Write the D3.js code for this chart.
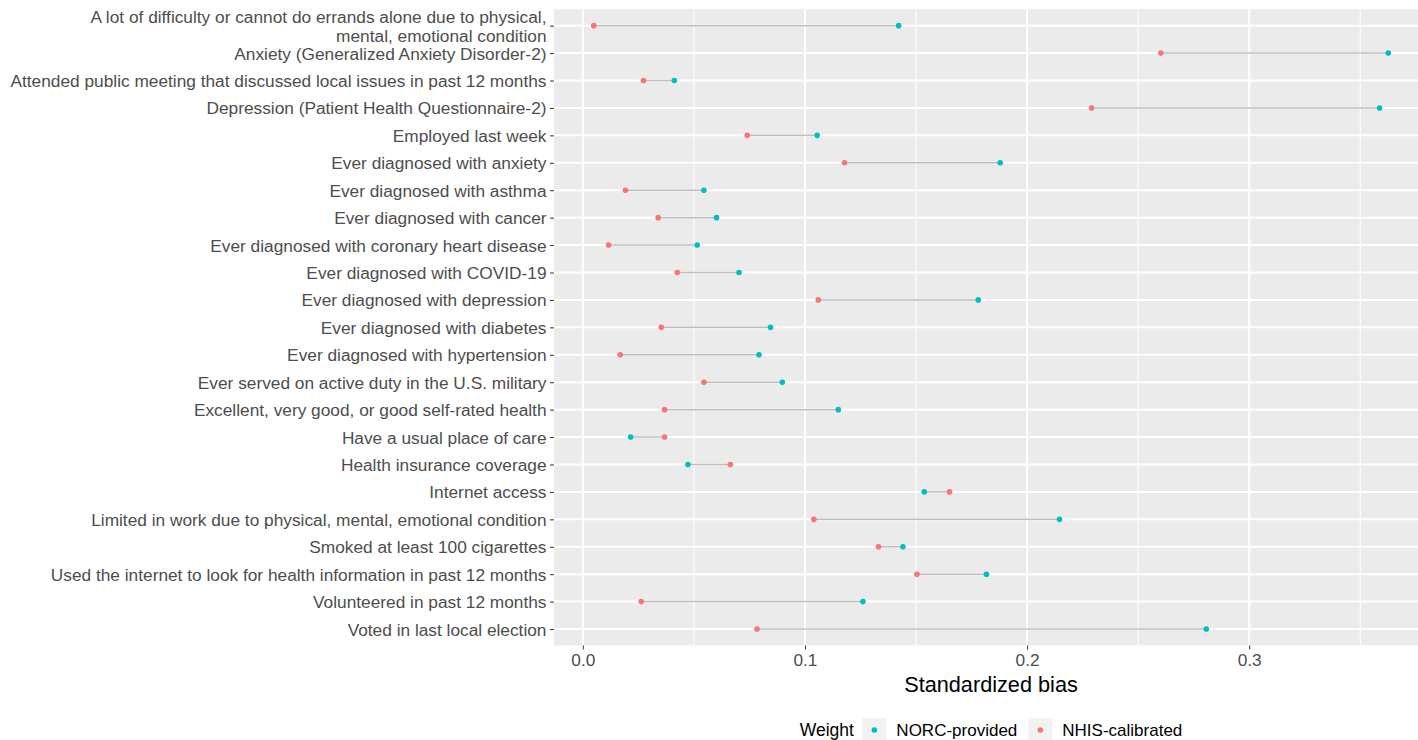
<!DOCTYPE html>
<html>
<head>
<meta charset="utf-8">
<script src="https://cdn.jsdelivr.net/npm/d3@7"></script>
<style>
  html, body { margin: 0; padding: 0; background: #ffffff; }
  svg { display: block; }
  text { font-family: "Liberation Sans", Arial, sans-serif; }
</style>
</head>
<body>
<svg id="chart" width="1418" height="740"></svg>
<script>
const categories = [
  "A lot of difficulty or cannot do errands alone due to physical,\nmental, emotional condition",
  "Anxiety (Generalized Anxiety Disorder-2)",
  "Attended public meeting that discussed local issues in past 12 months",
  "Depression (Patient Health Questionnaire-2)",
  "Employed last week",
  "Ever diagnosed with anxiety",
  "Ever diagnosed with asthma",
  "Ever diagnosed with cancer",
  "Ever diagnosed with coronary heart disease",
  "Ever diagnosed with COVID-19",
  "Ever diagnosed with depression",
  "Ever diagnosed with diabetes",
  "Ever diagnosed with hypertension",
  "Ever served on active duty in the U.S. military",
  "Excellent, very good, or good self-rated health",
  "Have a usual place of care",
  "Health insurance coverage",
  "Internet access",
  "Limited in work due to physical, mental, emotional condition",
  "Smoked at least 100 cigarettes",
  "Used the internet to look for health information in past 12 months",
  "Volunteered in past 12 months",
  "Voted in last local election"
];
const norcProvided = [0.1422, 0.3626, 0.0412, 0.3587, 0.1055, 0.1879, 0.0545, 0.0602, 0.0515, 0.0703, 0.1780, 0.0845, 0.0793, 0.0898, 0.1150, 0.0215, 0.0473, 0.1537, 0.2146, 0.1441, 0.1817, 0.1261, 0.2807];
const nhisCalibrated = [0.0049, 0.2602, 0.0273, 0.2290, 0.0740, 0.1178, 0.0192, 0.0339, 0.0116, 0.0425, 0.1060, 0.0353, 0.0168, 0.0545, 0.0368, 0.0368, 0.0664, 0.1651, 0.1040, 0.1331, 0.1504, 0.0263, 0.0784];
const xTicks = [0.0, 0.1, 0.2, 0.3];
const xMinorTicks = [0.05, 0.15, 0.25, 0.35];
const seriesNames = ["NORC-provided", "NHIS-calibrated"];
const seriesColors = ["#00BFC4", "#F8766D"];
const legendTitle = "Weight";
const xTitle = "Standardized bias";

const svg = d3.select("#chart");
const panel = { left: 554, right: 1428, top: 9.2, bottom: 645.5 };

const allVals = norcProvided.concat(nhisCalibrated);
const [dMin, dMax] = d3.extent(allVals);
const ex = (dMax - dMin) * 0.05;
const x = d3.scaleLinear().domain([dMin - ex, dMax + ex]).range([panel.left, panel.right]);
const y = d3.scalePoint().domain(categories).range([panel.top, panel.bottom]).padding(0.6);

// panel background
svg.append("rect")
  .attr("x", panel.left).attr("y", panel.top)
  .attr("width", panel.right - panel.left).attr("height", panel.bottom - panel.top)
  .attr("fill", "#EBEBEB");

const grid = svg.append("g");
grid.selectAll("line.minor").data(xMinorTicks).join("line")
  .attr("class", "minor")
  .attr("x1", d => x(d)).attr("x2", d => x(d))
  .attr("y1", panel.top).attr("y2", panel.bottom)
  .attr("stroke", "#ffffff").attr("stroke-width", 1.1);
grid.selectAll("line.majorx").data(xTicks).join("line")
  .attr("class", "majorx")
  .attr("x1", d => x(d)).attr("x2", d => x(d))
  .attr("y1", panel.top).attr("y2", panel.bottom)
  .attr("stroke", "#ffffff").attr("stroke-width", 2);
grid.selectAll("line.majory").data(categories).join("line")
  .attr("class", "majory")
  .attr("x1", panel.left).attr("x2", panel.right)
  .attr("y1", d => y(d)).attr("y2", d => y(d))
  .attr("stroke", "#ffffff").attr("stroke-width", 2);

// segments
const rows = categories.map((c, i) => ({ c, a: norcProvided[i], b: nhisCalibrated[i] }));
svg.append("g").selectAll("line").data(rows).join("line")
  .attr("x1", d => x(d.a)).attr("x2", d => x(d.b))
  .attr("y1", d => y(d.c)).attr("y2", d => y(d.c))
  .attr("stroke", "#BEBEBE").attr("stroke-width", 1.5);

// points
const series = [norcProvided, nhisCalibrated];
series.forEach((vals, si) => {
  svg.append("g").selectAll("circle").data(vals).join("circle")
    .attr("cx", d => x(d))
    .attr("cy", (d, i) => y(categories[i]))
    .attr("r", 2.8)
    .attr("fill", seriesColors[si]);
});

// x axis
const xAxis = d3.axisBottom(x).tickValues(xTicks).tickFormat(d3.format(".1f")).tickSize(4).tickPadding(4);
const gx = svg.append("g").attr("transform", `translate(0,${panel.bottom})`).call(xAxis);
gx.select(".domain").remove();
gx.selectAll(".tick line").attr("stroke", "#333333").attr("stroke-width", 1);
gx.selectAll(".tick text").attr("fill", "#4D4D4D").attr("font-size", 17.3)
  .attr("font-family", "Liberation Sans, Arial, sans-serif");

// y axis
const yAxis = d3.axisLeft(y).tickSize(4).tickPadding(3).tickFormat("");
const gy = svg.append("g").attr("transform", `translate(${panel.left},0)`).call(yAxis);
gy.select(".domain").remove();
gy.selectAll(".tick line").attr("stroke", "#333333").attr("stroke-width", 1);
const lh = 19;
gy.selectAll(".tick").each(function(d) {
  const lines = d.split("\n");
  const t = d3.select(this).select("text")
    .attr("fill", "#4D4D4D").attr("font-size", 17.3)
    .attr("font-family", "Liberation Sans, Arial, sans-serif")
    .attr("text-anchor", "end").attr("dy", null);
  t.text(null);
  const n = lines.length;
  lines.forEach((ln, k) => {
    t.append("tspan").attr("x", -7.5)
      .attr("y", (k - (n - 1) / 2) * lh + 6)
      .text(ln);
  });
});

// x title
svg.append("text")
  .attr("x", (panel.left + panel.right) / 2).attr("y", 692)
  .attr("text-anchor", "middle").attr("font-size", 21.7).attr("fill", "#000000")
  .text(xTitle);

// legend
const lg = svg.append("g");
const ly = 730;
const tTitle = lg.append("text").attr("font-size", 17.5).attr("fill", "#000").attr("y", ly + 6).text(legendTitle);
const labels = seriesNames.map(s => lg.append("text").attr("font-size", 17).attr("fill", "#000").attr("y", ly + 6).text(s));
const wTitle = tTitle.node().getComputedTextLength();
const wLabels = labels.map(t => t.node().getComputedTextLength());
const keyW = 24;
const total = wTitle + 8.5 + (keyW + 10) * 2 + wLabels[0] + 11 + wLabels[1];
let cx = (panel.left + panel.right) / 2 - total / 2;
tTitle.attr("x", cx);
cx += wTitle + 8.5;
seriesNames.forEach((s, i) => {
  lg.append("rect").attr("x", cx).attr("y", ly - keyW / 2).attr("width", keyW).attr("height", keyW).attr("fill", "#F2F2F2");
  lg.append("circle").attr("cx", cx + keyW / 2).attr("cy", ly).attr("r", 2.8).attr("fill", seriesColors[i]);
  cx += keyW + 10;
  labels[i].attr("x", cx);
  cx += wLabels[i] + 11;
});
</script>
</body>
</html>
